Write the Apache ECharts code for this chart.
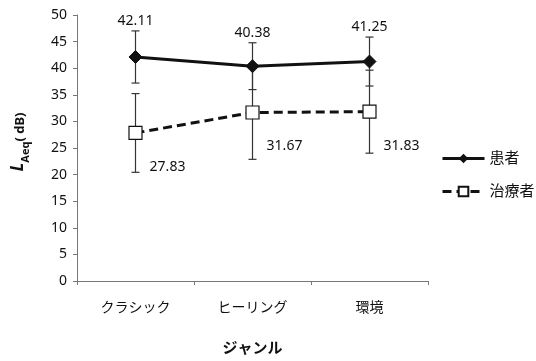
<!DOCTYPE html>
<html>
<head>
<meta charset="utf-8">
<script src="https://cdn.jsdelivr.net/npm/echarts@6/dist/echarts.min.js"></script>
<style>
  html, body { margin: 0; padding: 0; background: #fff; }
  #main { width: 536px; height: 361px; }
</style>
</head>
<body>
<div id="main"></div>
<script>
// データ
var categories = ['クラシック', 'ヒーリング', '環境'];
var patientMean = [42.11, 40.38, 41.25];
var patientSD = [4.9, 4.4, 4.6];
var therapistMean = [27.83, 31.67, 31.83];
var therapistSD = [7.4, 8.8, 7.8];
var seriesNames = ['患者', '治療者'];

var FONT = '"Noto Sans", "Noto Sans CJK JP", sans-serif';

function errData(mean, sd) {
  return mean.map(function (m, i) { return [i, m, sd[i]]; });
}

// エラーバー + 数値ラベル
function makeErrRender(labelMode) {
  return function (params, api) {
    var i = api.value(0), m = api.value(1), s = api.value(2);
    var top = api.coord([i, m + s]);
    var bot = api.coord([i, m - s]);
    var mid = api.coord([i, m]);
    var cap = 4;
    var st = { stroke: '#333', lineWidth: 1.2 };
    var children = [
      { type: 'line', shape: { x1: top[0], y1: top[1], x2: bot[0], y2: bot[1] }, style: st },
      { type: 'line', shape: { x1: top[0] - cap, y1: top[1], x2: top[0] + cap, y2: top[1] }, style: st },
      { type: 'line', shape: { x1: bot[0] - cap, y1: bot[1], x2: bot[0] + cap, y2: bot[1] }, style: st }
    ];
    var txt = m.toFixed(2);
    if (labelMode === 'top') {
      children.push({ type: 'text', x: top[0], y: top[1] - 3,
        style: { text: txt, fill: '#111', font: '14px ' + FONT, align: 'center', verticalAlign: 'bottom' } });
    } else {
      children.push({ type: 'text', x: mid[0] + 32, y: mid[1] + 34,
        style: { text: txt, fill: '#111', font: '14px ' + FONT, align: 'center', verticalAlign: 'middle' } });
    }
    return { type: 'group', children: children };
  };
}

var myChart = echarts.init(document.getElementById('main'));
myChart.setOption({
  animation: false,
  backgroundColor: '#fff',
  textStyle: { fontFamily: FONT },
  grid: { left: 77, right: 108, top: 15, bottom: 75 },
  legend: {
    orient: 'vertical',
    left: 436,
    top: 146,
    itemWidth: 42,
    itemHeight: 12,
    itemGap: 18,
    data: seriesNames,
    lineStyle: { width: 3 },
    textStyle: { fontSize: 15, color: '#111', fontFamily: FONT }
  },
  xAxis: {
    type: 'category',
    data: categories,
    boundaryGap: true,
    axisLine: { lineStyle: { color: '#777', width: 1 } },
    axisTick: { show: true, length: 4, lineStyle: { color: '#777' } },
    axisLabel: { fontSize: 14, color: '#111', margin: 20 },
    name: 'ジャンル',
    nameLocation: 'middle',
    nameGap: 60,
    nameTextStyle: { fontSize: 15, fontWeight: 'bold', color: '#111' }
  },
  yAxis: {
    type: 'value',
    min: 0,
    max: 50,
    interval: 5,
    splitLine: { show: false },
    axisLine: { show: true, lineStyle: { color: '#777', width: 1 } },
    axisTick: { show: true, length: 4, lineStyle: { color: '#777' } },
    axisLabel: { fontSize: 14, color: '#111', margin: 10 },
    name: '{l|L}{s|Aeq}{p|( dB)}',
    nameLocation: 'middle',
    nameRotate: 90,
    nameGap: 50,
    nameTextStyle: {
      padding: [0, 0, 0, 12],
      rich: {
        l: { fontSize: 17, fontWeight: 'bold', fontStyle: 'italic', color: '#111', verticalAlign: 'bottom', lineHeight: 20 },
        s: { fontSize: 11, fontWeight: 'bold', color: '#111', verticalAlign: 'bottom', lineHeight: 20, padding: [0, 0, -4, 0] },
        p: { fontSize: 13, fontWeight: 'bold', color: '#111', verticalAlign: 'bottom', lineHeight: 20 }
      }
    }
  },
  series: [
    {
      type: 'custom',
      renderItem: makeErrRender('top'),
      data: errData(patientMean, patientSD),
      z: 1,
      silent: true
    },
    {
      type: 'custom',
      renderItem: makeErrRender('right'),
      data: errData(therapistMean, therapistSD),
      z: 1,
      silent: true
    },
    {
      name: seriesNames[0],
      type: 'line',
      data: patientMean,
      symbol: 'diamond',
      symbolSize: 13,
      itemStyle: { color: '#111', borderColor: '#111' },
      lineStyle: { color: '#111', width: 3 },
      z: 3
    },
    {
      name: seriesNames[1],
      type: 'line',
      data: therapistMean,
      symbol: 'rect',
      symbolSize: 13,
      itemStyle: { color: '#fff', borderColor: '#111', borderWidth: 1.2 },
      lineStyle: { color: '#111', width: 3, type: [9, 5] },
      z: 3
    }
  ]
});
</script>
</body>
</html>
